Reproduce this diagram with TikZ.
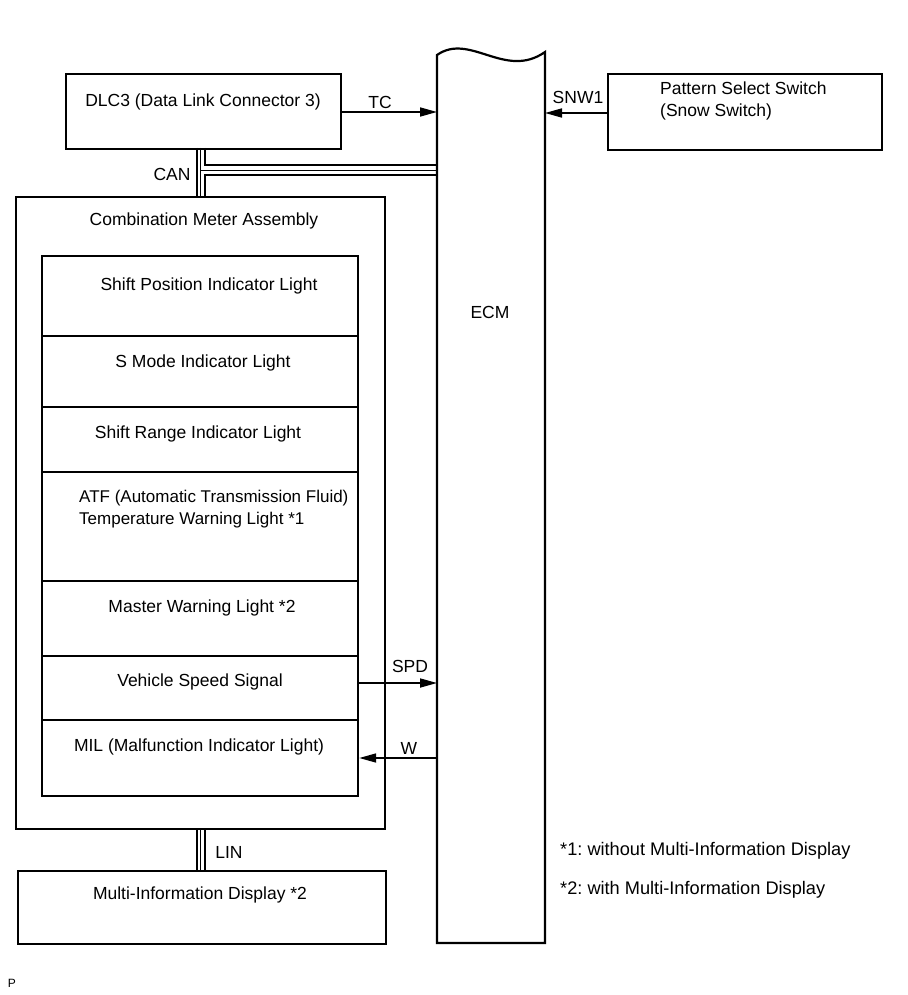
\documentclass[tikz,border=0pt]{standalone}
\usepackage{fontspec}
\setmainfont{Liberation Sans}
\usetikzlibrary{arrows.meta}
\frenchspacing
\begin{document}
\begin{tikzpicture}[x=1pt,y=-1pt,
  box/.style={draw,line width=2.2pt,rectangle,inner sep=0pt,anchor=north west},
  txt/.style={font=\fontsize{17.5}{22}\selectfont,inner sep=0pt,yshift=-2pt},
  note/.style={txt,font=\fontsize{18.2}{22}\selectfont},
  wire/.style={line width=2pt},
  thinwire/.style={line width=0.9pt},
  sig/.style={line width=1.7pt,-{Triangle[length=17pt,width=9pt]}}]
\useasboundingbox (0,0) rectangle (907,995);
% ECM
\draw[line width=2.2pt] (437,943) -- (437,55) .. controls (470,32) and (505,80) .. (545,52) -- (545,943) -- cycle;
\node[txt] (ecm) at (490,310) {ECM};
\coordinate (ecmTC) at (437,112);
\coordinate (ecmSNW) at (545,113);
\coordinate (ecmSPD) at (437,683);
\coordinate (ecmW) at (437,758);
% DLC3
\node[box,minimum width=275pt,minimum height=75pt] (dlc) at (65,73) {};
\node[txt] (dlct) at (203,100) {DLC3 (Data Link Connector 3)};
% Pattern select switch
\node[box,minimum width=274pt,minimum height=76pt] (pss) at (607,73) {};
\node[txt,align=left,anchor=west] (psst) at (660,99) {Pattern Select Switch\\(Snow Switch)};
% Combination meter
\node[box,minimum width=369pt,minimum height=632pt] (cma) at (15,196) {};
\node[txt] (cmat) at (204,219) {Combination Meter Assembly};
\node[box,minimum width=316pt,minimum height=80pt] (r1) at (41,255) {};
\node[box,minimum width=316pt,minimum height=71pt] (r2) at (41,335) {};
\node[box,minimum width=316pt,minimum height=65pt] (r3) at (41,406) {};
\node[box,minimum width=316pt,minimum height=109pt] (r4) at (41,471) {};
\node[box,minimum width=316pt,minimum height=75pt] (r5) at (41,580) {};
\node[box,minimum width=316pt,minimum height=64pt] (r6) at (41,655) {};
\node[box,minimum width=316pt,minimum height=76pt] (r7) at (41,719) {};
\node[txt] (t1) at (209,284) {Shift Position Indicator Light};
\node[txt] (t2) at (203,361) {S Mode Indicator Light};
\node[txt] (t3) at (198,432) {Shift Range Indicator Light};
\node[txt,font=\fontsize{17}{22}\selectfont,align=left,anchor=west] (t4) at (79,507.5) {ATF (Automatic Transmission Fluid)\\Temperature Warning Light *1};
\node[txt] (t5) at (202,606) {Master Warning Light *2};
\node[txt] (t6) at (200,680) {Vehicle Speed Signal};
\node[txt] (t7) at (199,745) {MIL (Malfunction Indicator Light)};
% MID
\node[box,minimum width=368pt,minimum height=73pt] (mid) at (17,870) {};
\node[txt] (midt) at (200,893) {Multi-Information Display *2};
% signals
\draw[sig] (dlc.east |- ecmTC) -- (ecmTC);
\node[txt] (tc) at (380,100) {TC};
\draw[sig] (pss.west |- ecmSNW) -- (ecmSNW);
\node[txt] (snw) at (578,95) {SNW1};
\draw[sig] (r6.east |- ecmSPD) -- (ecmSPD);
\node[txt] (spd) at (410,664) {SPD};
\draw[sig] (ecmW) -- (r7.east |- ecmW);
\node[txt] (w) at (409,746) {W};
% CAN bus
\draw[wire] (197,148) -- (197,196);
\draw[wire] (204.5,148) -- (204.5,165) -- (437,165);
\draw[wire] (204.5,196) -- (204.5,175) -- (437,175);
\draw[thinwire] (200.7,148) -- (200.7,196);
\draw[thinwire] (200.7,170) -- (437,170);
\node[txt] (can) at (172,172) {CAN};
% LIN bus
\draw[wire] (197,828) -- (197,870);
\draw[wire] (204.5,828) -- (204.5,870);
\draw[thinwire] (200.7,828) -- (200.7,870);
\node[txt] (lin) at (229,850) {LIN};
% notes
\node[note,anchor=west] (n1) at (560,849) {*1: without Multi-Information Display};
\node[note,anchor=west] (n2) at (560,888) {*2: with Multi-Information Display};
\node[font=\fontsize{12}{14}\selectfont,inner sep=0pt] (p) at (12,983) {P};
\end{tikzpicture}
\end{document}
